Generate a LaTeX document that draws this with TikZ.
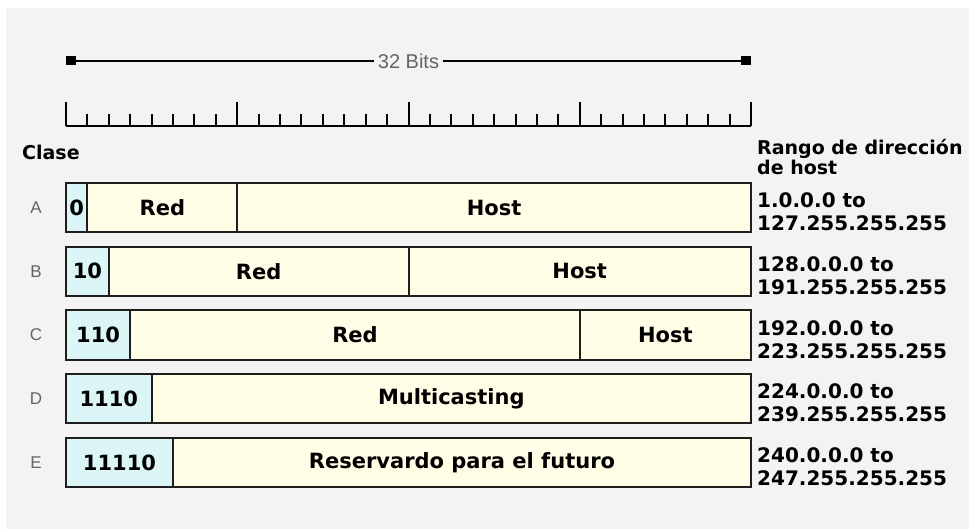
\documentclass[tikz,border=0pt]{standalone}
\usepackage{fontspec}
\setmainfont{DejaVu Sans}
\newfontfamily\thinfont{Liberation Sans}
\usetikzlibrary{arrows.meta, positioning, calc}

\definecolor{bgcol}{RGB}{243,243,243}
\definecolor{pfxcol}{RGB}{220,246,248}
\definecolor{fldcol}{RGB}{255,253,230}
\definecolor{edgecol}{RGB}{30,30,30}
\definecolor{lblcol}{RGB}{100,100,100}
\newcommand{\bitw}{21.406pt}

\tikzset{
	fieldbox/.style={draw=edgecol, line width=2pt, fill=fldcol, minimum height=49pt, inner sep=0pt, outer sep=0pt, anchor=west, font=\fontsize{21}{21}\selectfont\bfseries},
	pfxbox/.style={fieldbox, fill=pfxcol},
	classlbl/.style={font=\thinfont\fontsize{17}{17}\selectfont, text=lblcol},
	rangetxt/.style={anchor=base west, align=left, inner sep=0pt, font=\fontsize{20}{23}\selectfont\bfseries},
	bitsarrow/.style={line width=2pt, -{Square[length=10pt,width=9pt]}}
}

\begin{document}
\begin{tikzpicture}[x=1pt, y=-1pt]
	\useasboundingbox (0,0) rectangle (969,529);
	\fill[white] (0,0) rectangle (969,529);
	\fill[bgcol] (6,8) rectangle (969,529);

	% 32 bit scale
	\coordinate (bitsL) at (66,61);
	\coordinate (bitsR) at (751,61);
	\node[font=\thinfont\fontsize{20}{20}\selectfont, text=lblcol, inner sep=4pt] (bits) at (408.5,61) {32 Bits};
	\draw[bitsarrow] (bits.west) -- (bitsL);
	\draw[bitsarrow] (bits.east) -- (bitsR);

	\coordinate (rulerL) at (66,126);
	\coordinate (rulerR) at (751,126);
	\draw[line width=2pt] (rulerL) -- (rulerR);
	\foreach \i in {0,...,32} {
		\pgfmathsetmacro{\tk}{mod(\i,8)==0 ? 24 : 12}
		\draw[line width=2pt] ($(rulerL)+(\i*21.406,0)$) -- ++(0,-\tk);
	}

	\node[anchor=base west, inner sep=0pt, font=\fontsize{19}{19}\selectfont\bfseries] (clase) at (22,160) {Clase};
	\node[anchor=base west, align=left, inner sep=0pt, font=\fontsize{19}{20}\selectfont\bfseries] (rango) at (757,175) {Rango de dirección\\de host};

	\begin{scope}[shift={(0,207.5)}]
		\node[classlbl] (lA) at (36,0) {A};
		\node[pfxbox, minimum width=1*\bitw] (pA) at (66,0) {0};
		\node[fieldbox, minimum width=7*\bitw, right=0pt of pA] (nA) {Red};
		\node[fieldbox, minimum width=24*\bitw, right=0pt of nA] (hA) {Host};
		\node[rangetxt] (rA) at (757,23) {1.0.0.0 to\\127.255.255.255};
	\end{scope}

	\begin{scope}[shift={(0,271.25)}]
		\node[classlbl] (lB) at (36,0) {B};
		\node[pfxbox, minimum width=2*\bitw] (pB) at (66,0) {10};
		\node[fieldbox, minimum width=14*\bitw, right=0pt of pB] (nB) {Red};
		\node[fieldbox, minimum width=16*\bitw, right=0pt of nB] (hB) {Host};
		\node[rangetxt] (rB) at (757,23) {128.0.0.0 to\\191.255.255.255};
	\end{scope}

	\begin{scope}[shift={(0,335)}]
		\node[classlbl] (lC) at (36,0) {C};
		\node[pfxbox, minimum width=3*\bitw] (pC) at (66,0) {110};
		\node[fieldbox, minimum width=21*\bitw, right=0pt of pC] (nC) {Red};
		\node[fieldbox, minimum width=8*\bitw, right=0pt of nC] (hC) {Host};
		\node[rangetxt] (rC) at (757,23) {192.0.0.0 to\\223.255.255.255};
	\end{scope}

	\begin{scope}[shift={(0,398.75)}]
		\node[classlbl] (lD) at (36,0) {D};
		\node[pfxbox, minimum width=4*\bitw] (pD) at (66,0) {1110};
		\node[fieldbox, minimum width=28*\bitw, right=0pt of pD] (mD) {Multicasting};
		\node[rangetxt] (rD) at (757,23) {224.0.0.0 to\\239.255.255.255};
	\end{scope}

	\begin{scope}[shift={(0,462.5)}]
		\node[classlbl] (lE) at (36,0) {E};
		\node[pfxbox, minimum width=5*\bitw] (pE) at (66,0) {11110};
		\node[fieldbox, minimum width=27*\bitw, right=0pt of pE] (fE) {Reservardo para el futuro};
		\node[rangetxt] (rE) at (757,23) {240.0.0.0 to\\247.255.255.255};
	\end{scope}
\end{tikzpicture}
\end{document}
